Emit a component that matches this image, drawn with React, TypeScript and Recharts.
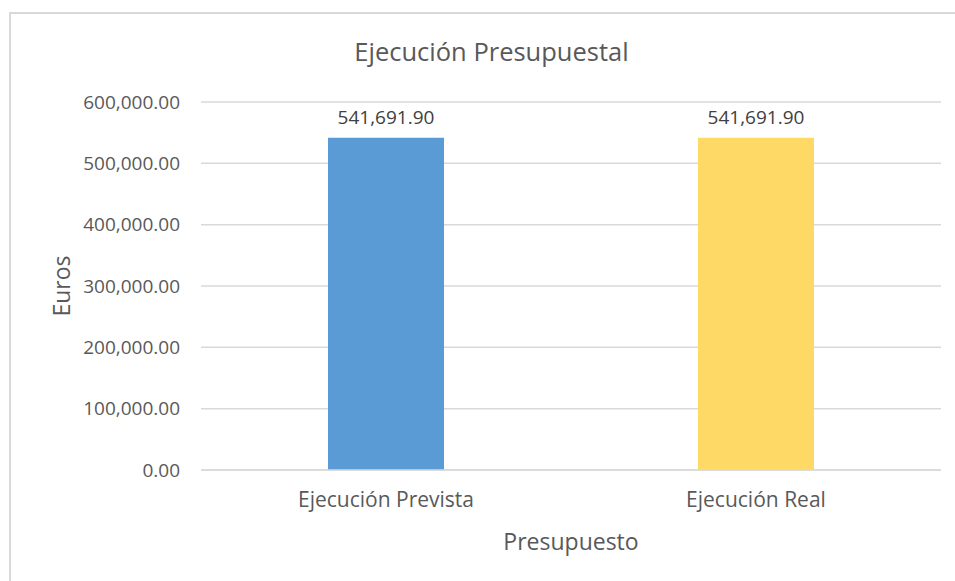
import { BarChart, Bar, XAxis, YAxis, CartesianGrid, LabelList, Cell } from "recharts";

const categories = ["Ejecución Prevista", "Ejecución Real"];
const values = [541691.9, 541691.9];
const barColors = ["#5B9BD5", "#FFD966"];
const yTicks = [0, 100000, 200000, 300000, 400000, 500000, 600000];

const data = categories.map((name, i) => ({ name, value: values[i] }));

const fmt = (v: number) =>
  v.toLocaleString("en-US", { minimumFractionDigits: 2, maximumFractionDigits: 2 });

const FONT = "'Open Sans', sans-serif";
const TEXT = "#595959";

export default function App() {
  return (
    <div style={{ position: "relative", width: 955, height: 581, overflow: "hidden", fontFamily: FONT }}>
      <style>{`body { margin: 0; overflow: hidden; }`}</style>
      {/* chart frame: only top and left edges fall inside the crop */}
      <div
        style={{
          position: "absolute",
          left: 9,
          top: 12,
          right: 0,
          bottom: 0,
          borderTop: "2px solid #D9D9D9",
          borderLeft: "2px solid #D9D9D9",
        }}
      />
      <div style={{ position: "absolute", left: 8, top: 8 }}>
        <BarChart width={947} height={573} data={data} margin={{ top: 94, right: 14, left: 0, bottom: 0 }} barSize={116}>
          <CartesianGrid vertical={false} stroke="#D9D9D9" strokeWidth={1.5} />
          <XAxis
            dataKey="name"
            axisLine={{ stroke: "#D9D9D9", strokeWidth: 1.5 }}
            tickLine={false}
            tickSize={0}
            tickMargin={22}
            height={111}
            tick={{ fill: TEXT, fontSize: 21, fontFamily: FONT }}
            label={({ viewBox }: any) => (
              <text
                x={viewBox.x + viewBox.width / 2}
                y={542}
                textAnchor="middle"
                fill={TEXT}
                fontSize={23}
                fontFamily={FONT}
              >
                Presupuesto
              </text>
            )}
          />
          <YAxis
            width={193}
            domain={[0, 600000]}
            ticks={yTicks}
            axisLine={false}
            tickLine={false}
            tickSize={0}
            tickMargin={21}
            tickFormatter={fmt}
            tick={{ fill: TEXT, fontSize: 19, fontFamily: FONT }}
            label={({ viewBox }: any) => {
              const cx = 53;
              const cy = viewBox.y + viewBox.height / 2;
              return (
                <text
                  x={cx}
                  y={cy}
                  transform={`rotate(-90 ${cx} ${cy})`}
                  textAnchor="middle"
                  dominantBaseline="central"
                  fill={TEXT}
                  fontSize={23}
                  fontFamily={FONT}
                >
                  Euros
                </text>
              );
            }}
          />
          <Bar dataKey="value" isAnimationActive={false}>
            {data.map((d, i) => (
              <Cell key={d.name} fill={barColors[i]} />
            ))}
            <LabelList
              dataKey="value"
              position="top"
              offset={14}
              formatter={(v: any) => fmt(Number(v))}
              style={{ fill: "#404040", fontSize: 19, fontFamily: FONT }}
            />
          </Bar>
        </BarChart>
      </div>
      <div
        style={{
          position: "absolute",
          left: 0,
          width: 983,
          top: 36,
          textAlign: "center",
          fontSize: 25.5,
          color: TEXT,
          lineHeight: "30px",
          whiteSpace: "nowrap",
        }}
      >
        Ejecución Presupuestal
      </div>
    </div>
  );
}
